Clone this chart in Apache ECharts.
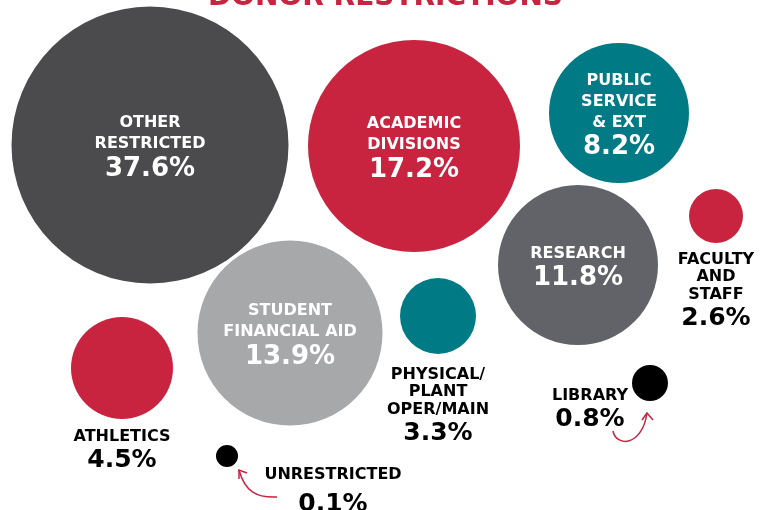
<!DOCTYPE html>
<html>
<head>
<meta charset="utf-8">
<title>Donor restrictions</title>
<script src="https://cdn.jsdelivr.net/npm/echarts@6/dist/echarts.min.js"></script>
<style>
  html, body { margin: 0; padding: 0; background: #fff; }
  #chart { width: 771px; height: 510px; }
</style>
</head>
<body>
<div id="chart"></div>
<script>
// share of donor restricted funds, in percent
const categories = [
  'OTHER\nRESTRICTED', 'ACADEMIC\nDIVISIONS', 'PUBLIC\nSERVICE\n& EXT', 'RESEARCH',
  'STUDENT\nFINANCIAL AID', 'FACULTY\nAND\nSTAFF', 'PHYSICAL/\nPLANT\nOPER/MAIN',
  'ATHLETICS', 'LIBRARY', 'UNRESTRICTED'
]
const shares = [37.6, 17.2, 8.2, 11.8, 13.9, 2.6, 3.3, 4.5, 0.8, 0.1]

// bubble layout (hand placed in the original graphic)
const layoutX = [150, 414, 619, 578, 290, 716, 438, 122, 650, 227]
const layoutY = [145, 146, 113, 265, 333, 216, 316, 368, 383, 456]
const layoutSize = [277, 212, 140, 160, 185, 54, 76, 102, 36, 22]
const colors = ['#4b4b4d', '#c8243f', '#007a84', '#616369', '#a7a8aa',
  '#c8243f', '#007a84', '#c8243f', '#000000', '#000000']

const FONT = 'DejaVu Sans'
const RED = '#c8243f'

// where each label goes
const labelPlace = [
  { position: 'inside', offset: [0, 3] },
  { position: 'inside', offset: [0, 3] },
  { position: 'inside', offset: [0, 3] },
  { position: 'inside', offset: [0, 3] },
  { position: 'inside', offset: [0, 3] },
  { position: 'bottom', distance: 8 },
  { position: 'bottom', distance: 12 },
  { position: 'bottom', distance: 9 },
  { position: [-42, 22], align: 'center', verticalAlign: 'top' },
  { position: [117, 21], align: 'center', verticalAlign: 'top', wide: true }
]

const chart = echarts.init(document.getElementById('chart'))

const seriesData = shares.map((v, i) => {
  const place = labelPlace[i]
  const inside = place.position === 'inside'
  const ink = inside ? '#ffffff' : '#000000'
  const names = categories[i].split('\n').map(s => '{n|' + s + '}').join('\n')
  const pct = '{' + (place.wide ? 'pw' : 'p') + '|' + v.toFixed(1) + '%}'
  return {
    name: categories[i].replace(/\n/g, ' '),
    value: [layoutX[i], layoutY[i], v],
    symbolSize: layoutSize[i],
    itemStyle: { color: colors[i], opacity: 1 },
    label: {
      show: true,
      position: place.position,
      distance: place.distance,
      offset: place.offset,
      align: place.align || 'center',
      verticalAlign: place.verticalAlign,
      formatter: names + '\n' + pct,
      rich: {
        n: {
          fontFamily: FONT, fontWeight: 'bold', fontSize: 16, color: ink,
          lineHeight: inside ? 21 : 17.5, align: 'center'
        },
        p: {
          fontFamily: FONT, fontWeight: 'bold', fontSize: inside ? 26 : 25, color: ink,
          lineHeight: inside ? 29 : 30, align: 'center'
        },
        pw: {
          fontFamily: FONT, fontWeight: 'bold', fontSize: 25, color: ink,
          lineHeight: 42, align: 'center'
        }
      }
    }
  }
})

chart.setOption({
  animation: false,
  title: {
    text: 'DONOR RESTRICTIONS',
    left: 'center',
    top: -21,
    textStyle: { color: RED, fontSize: 28, fontWeight: 'bold', fontFamily: FONT }
  },
  grid: { left: 0, right: 0, top: 0, bottom: 0 },
  xAxis: { type: 'value', min: 0, max: 771, show: false },
  yAxis: { type: 'value', min: 0, max: 510, inverse: true, show: false },
  series: [{
    type: 'scatter',
    symbol: 'circle',
    silent: true,
    itemStyle: { opacity: 1 },
    emphasis: { disabled: true },
    data: seriesData
  }]
})

// curved arrows pointing at the two small bubbles
function arrow(idx, p0, c1, c2, tip, headA, headB) {
  const c = chart.convertToPixel({ seriesIndex: 0 }, [layoutX[idx], layoutY[idx]])
  const at = p => [c[0] + p[0], c[1] + p[1]]
  const s = at(p0), a = at(c1), b = at(c2), t = at(tip)
  const style = { stroke: RED, lineWidth: 1.5, fill: null }
  return [
    {
      type: 'bezierCurve',
      shape: { x1: s[0], y1: s[1], cpx1: a[0], cpy1: a[1], cpx2: b[0], cpy2: b[1], x2: t[0], y2: t[1] },
      style
    },
    {
      type: 'polyline',
      shape: { points: [at(headA), t, at(headB)] },
      style
    }
  ]
}

chart.setOption({
  graphic: [
    ...arrow(8, [-37, 48], [-34, 64], [-8, 64], [-3, 30], [-8, 37], [3, 37]),
    ...arrow(9, [50, 41], [30, 42], [18, 36], [12, 14], [12, 23], [20, 17])
  ]
})
</script>
</body>
</html>
